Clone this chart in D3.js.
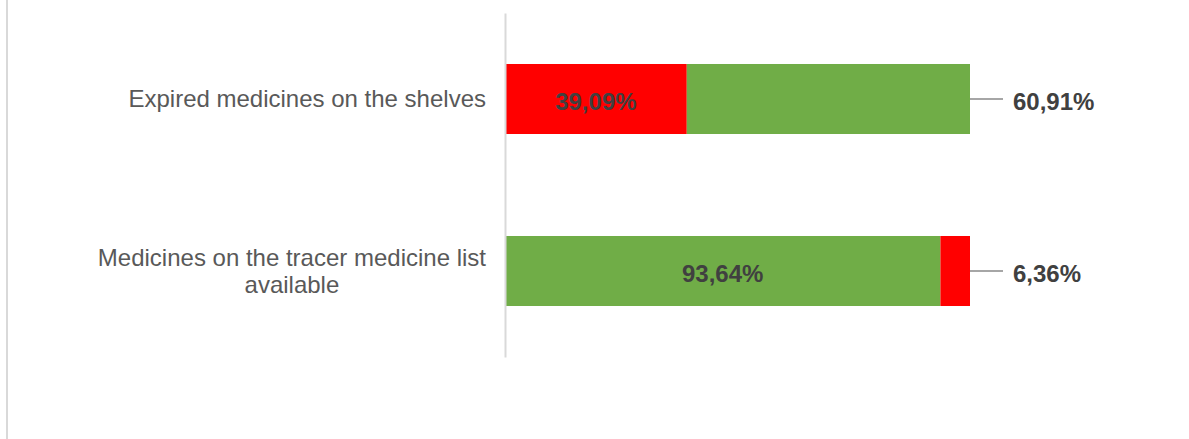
<!DOCTYPE html>
<html>
<head>
<meta charset="utf-8">
<script src="https://cdn.jsdelivr.net/npm/d3@7"></script>
<style>
  html, body { margin: 0; padding: 0; background: #ffffff; }
  svg { display: block; }
</style>
</head>
<body>
<svg id="chart" width="1189" height="439"></svg>
<script>
// ---- data ----
const categories = ["Expired medicines on the shelves", "Medicines on the tracer medicine list available"];
const categoryLines = [["Expired medicines on the shelves"], ["Medicines on the tracer medicine list", "available"]];
const greenValues = [60.91, 93.64];
const redValues = [39.09, 6.36];
const greenFirst = [false, true];

// ---- styles ----
const GREEN = "#70AD47", RED = "#FF0000";
const W = 1189, H = 439;
const svg = d3.select("#chart");

const x = d3.scaleLinear().domain([0, 100]).range([505, 970]);
const y = d3.scaleBand().domain(categories).range([13, 357]).paddingInner(0.593).paddingOuter(0.2965);

const fmt = v => d3.format(".2f")(v).replace(".", ",") + "%";

// outer frame left edge
svg.append("line").attr("x1", 7).attr("x2", 7).attr("y1", 0).attr("y2", H)
  .attr("stroke", "#D9D9D9").attr("stroke-width", 2);

// build segments
const rows = categories.map((c, i) => {
  const segs = greenFirst[i]
    ? [{v: greenValues[i], color: GREEN}, {v: redValues[i], color: RED}]
    : [{v: redValues[i], color: RED}, {v: greenValues[i], color: GREEN}];
  let acc = 0;
  segs.forEach(s => { s.x0 = acc; acc += s.v; s.x1 = acc; });
  return {cat: c, segs, i};
});

const g = svg.append("g");
rows.forEach(r => {
  const by = y(r.cat), bh = y.bandwidth(), cy = by + bh / 2;
  r.segs.forEach(s => {
    g.append("rect").attr("x", x(s.x0)).attr("y", by)
      .attr("width", x(s.x1) - x(s.x0)).attr("height", bh).attr("fill", s.color);
  });
  // inside label for first segment
  const s0 = r.segs[0];
  g.append("text").attr("x", (x(s0.x0) + x(s0.x1)) / 2).attr("y", cy + 11)
    .attr("text-anchor", "middle")
    .style("font-family", "Liberation Sans, Arial, sans-serif").style("font-weight", "bold")
    .style("font-size", "24px").attr("fill", "#404040").text(fmt(s0.v));
  // outside label for second segment with leader line
  const s1 = r.segs[1];
  g.append("line").attr("x1", x(s1.x1)).attr("x2", x(s1.x1) + 33).attr("y1", cy).attr("y2", cy)
    .attr("stroke", "#A6A6A6").attr("stroke-width", 2);
  g.append("text").attr("x", x(s1.x1) + 43).attr("y", cy + 11)
    .style("font-family", "Liberation Sans, Arial, sans-serif").style("font-weight", "bold")
    .style("font-size", "24px").attr("fill", "#404040").text(fmt(s1.v));

  // category label (wrapped lines, centered within block whose right edge is fixed)
  const lines = categoryLines[r.i];
  const lh = 27;
  const tg = g.append("g");
  const texts = lines.map((ln, k) => tg.append("text")
    .attr("y", cy + 8 - (lines.length - 1) * lh / 2 + k * lh)
    .attr("text-anchor", "middle")
    .style("font-family", "Liberation Sans, Arial, sans-serif")
    .style("font-size", "24px").attr("fill", "#595959").text(ln));
  const blockW = d3.max(texts, t => t.node().getComputedTextLength());
  const rightEdge = 486;
  texts.forEach(t => t.attr("x", rightEdge - blockW / 2));
});

// vertical category axis line
const yAxis = d3.axisLeft(y).tickSize(0).tickFormat("");
const ag = svg.append("g").attr("transform", `translate(${x(0)},0)`).call(yAxis);
ag.select(".domain").attr("stroke", "#D9D9D9").attr("stroke-width", 2);
</script>
</body>
</html>
